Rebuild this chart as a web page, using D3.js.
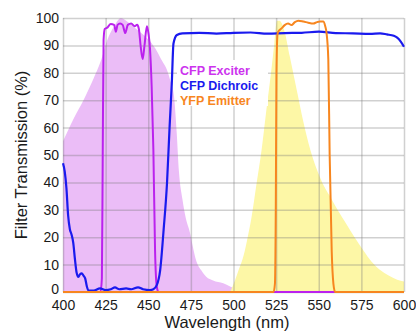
<!DOCTYPE html>
<html>
<head>
<meta charset="utf-8">
<script src="https://cdn.jsdelivr.net/npm/d3@7"></script>
<style>
  body { margin: 0; background: #fff; }
  svg { display: block; font-family: "Liberation Sans", Arial, sans-serif; }
</style>
</head>
<body>
<svg id="chart" width="416" height="333"></svg>
<script>
// CFP excitation spectrum (filled violet)
const exSpecWl  = [400, 406, 412, 418, 422, 426, 430, 434, 438, 443, 447, 451, 455, 458, 461, 463, 465, 466.7, 468, 470, 472, 474.5, 476, 478, 481, 484, 488, 494, 498, 500, 503, 506];
const exSpecVal = [55, 63, 70, 78, 84, 92, 97, 100, 98.5, 96, 94, 91.5, 88, 84.5, 81, 77, 72, 58, 44, 34, 27, 21.5, 17, 11.7, 8, 5.6, 4.2, 3.2, 2, 1.5, 0.5, 0];

// YFP emission spectrum (filled yellow)
const emSpecWl  = [498, 501, 503, 506, 508, 510.5, 513.5, 516.5, 519, 522, 524, 525.5, 527, 530, 533, 537, 541, 545, 549, 552, 556.5, 561, 566, 571, 576, 581, 586, 591, 596, 600];
const emSpecVal = [0, 4.5, 8, 13.5, 19, 27, 39.5, 52, 65, 80, 91, 99, 99, 95, 86, 74, 62, 52, 44.5, 40, 35, 30, 25, 20, 15.3, 11, 8, 6, 4.5, 3.8];

// CFP Exciter filter
const exciterWl  = [400, 422, 422.8, 423.3, 423.8, 424.5, 426, 428, 430, 431, 432, 433.5, 435, 436.5, 438, 440, 442, 443.5, 444.5, 445.5, 446.7, 447.8, 449.2, 450.2, 451, 452, 453, 454, 455, 456, 600];
const exciterVal = [0, 0, 5, 50, 92, 96, 96.5, 97.8, 97.5, 95, 97.5, 98, 97.5, 94.5, 97.5, 98, 97, 97.5, 96, 90, 85, 90, 97, 94, 89, 75, 52, 15, 2, 0, 0];

// CFP Dichroic mirror
const dichroicWl  = [400, 401, 402, 403, 404, 405, 406, 407, 408, 409, 410, 411, 412, 413, 414, 415, 418, 421.7, 425, 428, 430.5, 433, 437, 440, 444, 447, 451, 453, 455, 457, 459, 461, 462.5, 463.8, 464.8, 466.8, 470, 480, 490, 500, 510, 520, 530, 540, 550, 560, 570, 580, 586, 590, 594, 596, 598, 600];
const dichroicVal = [47, 44, 38, 28, 23, 21, 18, 12, 7, 5.5, 6.5, 6.8, 6, 5, 2, 0.5, 0.5, 1.3, 0.7, 1, 1.7, 1, 1.3, 1, 1.7, 1, 0.7, 1, 2.5, 8, 22.6, 39.7, 60, 76, 90.7, 93.8, 94.4, 94.6, 94.3, 94.6, 94.7, 94.3, 94.5, 94.6, 95, 94.5, 94.4, 94.2, 94.4, 94, 93.5, 92.8, 91.5, 89.5];

// YFP Emitter filter
const emitterWl  = [400, 523.5, 524.3, 524.8, 525.2, 525.8, 526.2, 528.2, 530, 532, 534, 536, 538, 541, 543.8, 546.8, 549, 550.7, 552.6, 553.8, 554.6, 555.6, 556.4, 557.6, 558.6, 559.6, 600];
const emitterVal = [0, 0, 3, 30, 80, 94, 95, 96.2, 97.4, 98, 97.4, 98.5, 99, 98.7, 98.3, 98, 98.5, 98.7, 98.7, 97, 94.4, 85, 50, 15, 3, 0, 0];

const xTicks = [400, 425, 450, 475, 500, 525, 550, 575, 600];
const yTicks = [0, 10, 20, 30, 40, 50, 60, 70, 80, 90, 100];
const legendLabels = ["CFP Exciter", "CFP Dichroic", "YFP Emitter"];

const svg = d3.select("#chart");
const m = { left: 63, right: 404, top: 18, bottom: 292 };

const x = d3.scaleLinear().domain([400, 600]).range([m.left, m.right]);
const y = d3.scaleLinear().domain([0, 100]).range([m.bottom, m.top]);

const pts = (wl, v) => wl.map((w, i) => [w, v[i]]);

const area = d3.area()
  .x(d => x(d[0])).y0(y(0)).y1(d => y(d[1]))
  .curve(d3.curveMonotoneX);
const line = d3.line()
  .x(d => x(d[0])).y(d => y(d[1]))
  .curve(d3.curveMonotoneX);

// spectra fills
svg.append("path").attr("d", area(pts(exSpecWl, exSpecVal))).attr("fill", "#ebbdf7");
svg.append("path").attr("d", area(pts(emSpecWl, emSpecVal))).attr("fill", "#fdf7a6");

// grid
const gridColor = "rgba(120,120,120,0.35)";
svg.append("g")
  .attr("transform", `translate(0,${m.bottom})`)
  .call(d3.axisBottom(x).tickValues(xTicks).tickSize(-(m.bottom - m.top)).tickFormat(""))
  .call(g => g.select(".domain").remove())
  .call(g => g.selectAll("line").attr("stroke", gridColor).attr("stroke-width", 1.5));
svg.append("g")
  .attr("transform", `translate(${m.left},0)`)
  .call(d3.axisLeft(y).tickValues(yTicks).tickSize(-(m.right - m.left)).tickFormat(""))
  .call(g => g.select(".domain").remove())
  .call(g => g.selectAll("line").attr("stroke", gridColor).attr("stroke-width", 1.5));

// legend box
svg.append("rect").attr("x", 177).attr("y", 60).attr("width", 91).attr("height", 46).attr("fill", "#fff");

// filter curves
svg.append("path").attr("d", line(pts(exciterWl, exciterVal)))
  .attr("fill", "none").attr("stroke", "#bb22ee").attr("stroke-width", 2);
svg.append("path").attr("d", line(pts(dichroicWl, dichroicVal)))
  .attr("fill", "none").attr("stroke", "#1a1aee").attr("stroke-width", 2.2);
svg.append("path").attr("d", line(pts(emitterWl, emitterVal)))
  .attr("fill", "none").attr("stroke", "#f7861f").attr("stroke-width", 2);

// tick labels
svg.append("g")
  .attr("transform", `translate(0,${m.bottom})`)
  .call(d3.axisBottom(x).tickValues(xTicks).tickSize(0).tickPadding(8))
  .call(g => g.select(".domain").remove())
  .call(g => g.selectAll("text").attr("font-size", 14).attr("fill", "#1a1a1a"))
  .attr("font-family", null);
svg.append("g")
  .attr("transform", `translate(${m.left},0)`)
  .call(d3.axisLeft(y).tickValues(yTicks).tickSize(0).tickPadding(4))
  .call(g => g.select(".domain").remove())
  .call(g => g.selectAll("text").attr("font-size", 14).attr("fill", "#1a1a1a"))
  .call(g => g.selectAll("text").filter(d => d === 0).attr("dy", "0.1em"))
  .attr("font-family", null);

// titles
svg.append("text").attr("x", 227).attr("y", 328).attr("text-anchor", "middle")
  .attr("font-size", 16.5).attr("fill", "#1a1a1a").text("Wavelength (nm)");
svg.append("text").attr("transform", "translate(27,155) rotate(-90)").attr("text-anchor", "middle")
  .attr("font-size", 16.5).attr("fill", "#1a1a1a").text("Filter Transmission (%)");

// legend
const legendColors = ["#cc33ee", "#1a1aee", "#f7861f"];
svg.append("g").selectAll("text").data(legendLabels).join("text")
  .attr("x", 180).attr("y", (d, i) => 74.5 + i * 15)
  .attr("font-size", 12.5).attr("font-weight", "bold")
  .attr("fill", (d, i) => legendColors[i]).text(d => d);
</script>
</body>
</html>
